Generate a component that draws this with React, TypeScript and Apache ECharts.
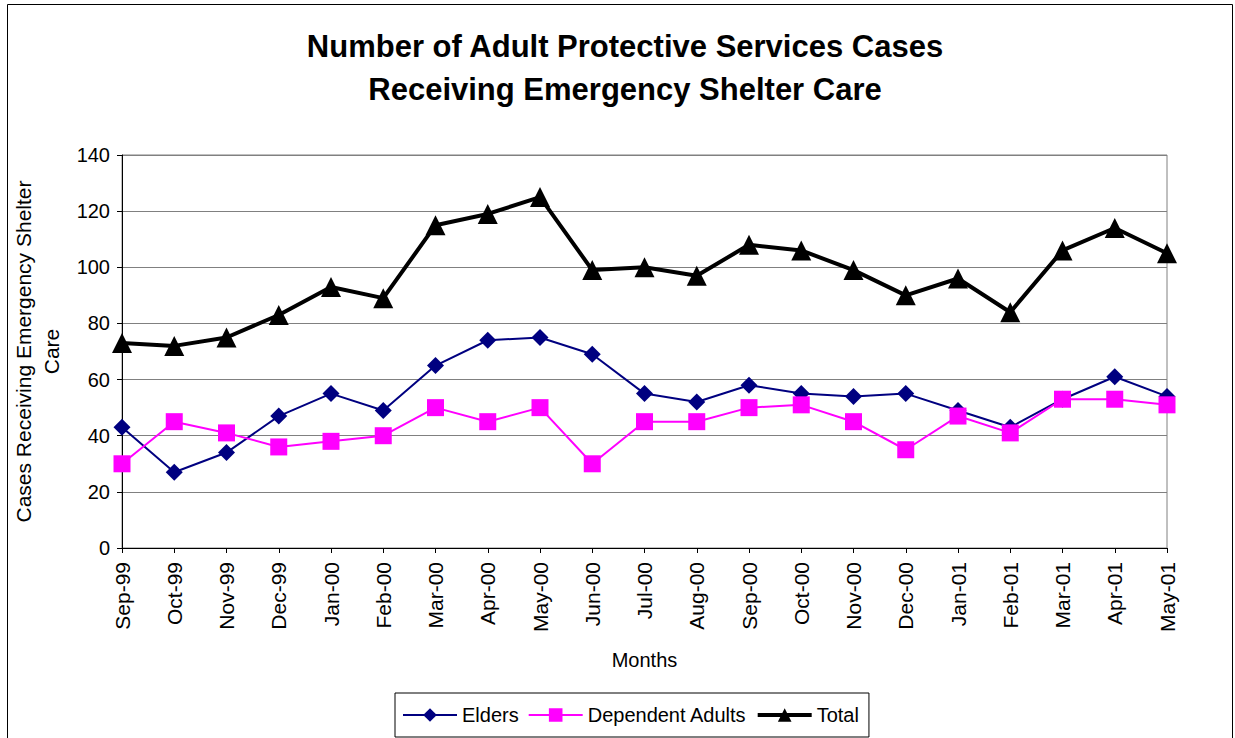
import React, { useEffect, useRef } from "react";
import * as echarts from "echarts";

const months = [
  "Sep-99", "Oct-99", "Nov-99", "Dec-99", "Jan-00", "Feb-00", "Mar-00",
  "Apr-00", "May-00", "Jun-00", "Jul-00", "Aug-00", "Sep-00", "Oct-00",
  "Nov-00", "Dec-00", "Jan-01", "Feb-01", "Mar-01", "Apr-01", "May-01",
];

const elders = [43, 27, 34, 47, 55, 49, 65, 74, 75, 69, 55, 52, 58, 55, 54, 55, 49, 43, 53, 61, 54];
const dependentAdults = [30, 45, 41, 36, 38, 40, 50, 45, 50, 30, 45, 45, 50, 51, 45, 35, 47, 41, 53, 53, 51];
const total = [73, 72, 75, 83, 93, 89, 115, 119, 125, 99, 100, 97, 108, 106, 99, 90, 96, 84, 106, 114, 105];

const FONT = "Liberation Sans, Arial, sans-serif";

export default function App() {
  const ref = useRef<HTMLDivElement>(null);

  useEffect(() => {
    if (!ref.current) return;
    const chart = echarts.init(ref.current, undefined, { renderer: "svg" });
    chart.setOption({
      animation: false,
      backgroundColor: "#ffffff",
      textStyle: { fontFamily: FONT, color: "#000" },
      title: {
        text: "Number of Adult Protective Services Cases\nReceiving Emergency Shelter Care",
        left: 620,
        textAlign: "center",
        top: 20,
        textStyle: {
          fontFamily: FONT,
          fontSize: 31,
          fontWeight: "bold",
          color: "#000",
          lineHeight: 43,
        },
      },
      graphic: [
        {
          type: "rect",
          shape: { x: 7.5, y: 4.5, width: 1225, height: 740 },
          style: { fill: "none", stroke: "#000", lineWidth: 1 },
          silent: true,
        },
      ],
      grid: {
        left: 122,
        right: 68,
        top: 155,
        bottom: 190,
        containLabel: false,
        outerBoundsMode: "none",
        show: true,
        borderColor: "#808080",
        borderWidth: 1,
      },
      legend: {
        left: 395,
        top: 693,
        padding: [12, 10, 12, 7],
        borderColor: "#000",
        borderWidth: 1,
        itemWidth: 54,
        itemHeight: 17,
        itemGap: 9,
        textStyle: { fontFamily: FONT, fontSize: 20, color: "#000" },
        data: [
          { name: "Elders", lineStyle: { width: 2 } },
          { name: "Dependent Adults", lineStyle: { width: 2 } },
          { name: "Total", lineStyle: { width: 4 } },
        ],
      },
      xAxis: {
        type: "category",
        data: months,
        boundaryGap: false,
        name: "Months",
        nameLocation: "middle",
        nameGap: 102,
        nameTextStyle: { fontFamily: FONT, fontSize: 20, color: "#000" },
        axisLine: { lineStyle: { color: "#000", width: 1 } },
        axisTick: { show: true, length: 5, lineStyle: { color: "#000" } },
        axisLabel: {
          rotate: 90,
          margin: 14,
          fontFamily: FONT,
          fontSize: 21,
          color: "#000",
          interval: 0,
        },
        splitLine: { show: false },
      },
      yAxis: {
        type: "value",
        min: 0,
        max: 140,
        interval: 20,
        name: "Cases Receiving Emergency Shelter\nCare",
        nameLocation: "middle",
        nameGap: 55,
        nameTextStyle: { fontFamily: FONT, fontSize: 21, color: "#000", lineHeight: 28 },
        axisLine: { show: true, lineStyle: { color: "#000", width: 1 } },
        axisTick: { show: true, length: 5, lineStyle: { color: "#000" } },
        axisLabel: { fontFamily: FONT, fontSize: 20, color: "#000", margin: 12 },
        splitLine: { show: true, lineStyle: { color: "#808080", width: 1 } },
      },
      series: [
        {
          name: "Elders",
          type: "line",
          data: elders,
          symbol: "diamond",
          symbolSize: 17,
          lineStyle: { color: "#000080", width: 2 },
          itemStyle: { color: "#000080" },
          z: 3,
        },
        {
          name: "Dependent Adults",
          type: "line",
          data: dependentAdults,
          symbol: "rect",
          symbolSize: 17,
          lineStyle: { color: "#FF00FF", width: 2 },
          itemStyle: { color: "#FF00FF" },
          z: 4,
        },
        {
          name: "Total",
          type: "line",
          data: total,
          symbol: "triangle",
          symbolSize: 20,
          lineStyle: { color: "#000", width: 4 },
          itemStyle: { color: "#000" },
          z: 5,
        },
      ],
    });
    return () => chart.dispose();
  }, []);

  return (
    <div
      ref={ref}
      style={{ position: "fixed", left: 0, top: 0, width: 1235, height: 738 }}
    />
  );
}
